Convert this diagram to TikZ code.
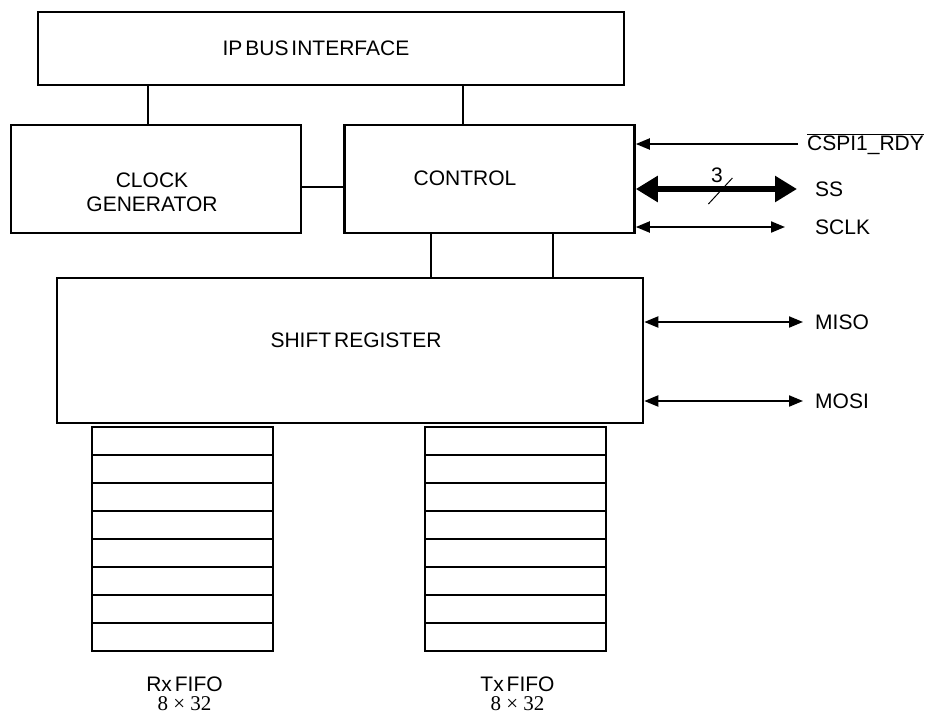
\documentclass[tikz,border=0pt]{standalone}
\usepackage{fontspec}
\setmainfont{Liberation Sans}[WordSpace=0.5]
\newfontfamily\numfont{Liberation Serif}
\usetikzlibrary{arrows.meta, positioning, calc}

\begin{document}
\begin{tikzpicture}[
  x=1pt, y=-1pt,
  font=\fontsize{21}{24}\selectfont,
  % blocs principaux
  blk/.style={rectangle, draw, line width=2.6pt, inner sep=0pt, align=center},
  cell/.style={rectangle, draw, line width=2pt, minimum width=181pt, minimum height=28pt, inner sep=0pt},
  txt/.style={inner sep=0pt, align=center},
  fifolbl/.style={txt, font=\fontsize{21}{19}\selectfont},
  sig/.style={inner sep=0pt, anchor=west},
  wire/.style={line width=2.6pt},
  arr/.style={{Triangle[length=14pt,width=11pt]}-{Triangle[length=14pt,width=11pt]}, line width=2pt},
  inarr/.style={-{Triangle[length=14pt,width=11pt]}, line width=2pt},
  busarr/.style={{Triangle[length=22pt,width=25pt]}-{Triangle[length=22pt,width=25pt]}, line width=6pt}
]
\useasboundingbox (0,0) rectangle (926,715);

% Blocs
\node[blk, minimum width=586pt, minimum height=73pt, label={[txt, xshift=-15pt]center:IP BUS INTERFACE}] (ipbus) at (331,48.5) {};
\node[blk, minimum width=290pt, minimum height=108pt, label={[txt, xshift=-4pt, yshift=-13pt]center:CLOCK\\GENERATOR}] (clk) at (156,179) {};
\node[blk, minimum width=290pt, minimum height=108pt, label={[txt, xshift=-24.5pt, yshift=1pt]center:CONTROL}] (ctrl) at (489.5,179) {};
\node[blk, minimum width=586pt, minimum height=145pt, label={[txt, xshift=6pt, yshift=10pt]center:SHIFT REGISTER}] (shreg) at (350,350.5) {};

% Liaisons internes
\draw[wire] ([xshift=-8pt]clk.north) -- ([xshift=-8pt]clk.north |- ipbus.south);
\draw[wire] ([xshift=-26.5pt]ctrl.north) -- ([xshift=-26.5pt]ctrl.north |- ipbus.south);
\draw[wire] ([yshift=-8pt]clk.east) -- ([yshift=-8pt]clk.east -| ctrl.west);
\draw[wire] ([xshift=-58.5pt]ctrl.south) -- ([xshift=-58.5pt]ctrl.south |- shreg.north);
\draw[wire] ([xshift=63.5pt]ctrl.south) -- ([xshift=63.5pt]ctrl.south |- shreg.north);

% FIFOs (8 mots)
\foreach \i in {1,...,8} {
  \node[cell] (rx\i) at (182.5, 413+28*\i) {};
  \node[cell] (tx\i) at (515.5, 413+28*\i) {};
}
\node[fifolbl, below=25pt of rx8, xshift=2pt] (rxlbl) {Rx FIFO\\{\numfont 8 × 32}};
\node[fifolbl, below=25pt of tx8, xshift=2pt] (txlbl) {Tx FIFO\\{\numfont 8 × 32}};

% Signaux externes
\coordinate (rdyE) at (798,144);
\node[sig, right=9pt of rdyE] (rdy) {$\overline{\mbox{CSPI1\_RDY}}$};
\draw[inarr] (rdyE) -- (rdyE -| ctrl.east);

\coordinate (ssE) at (797,189);
\node[sig, right=18pt of ssE] (ss) {SS};
\draw[busarr] (ssE -| ctrl.east) -- (ssE);
\draw[line width=1pt] ($(ssE -| ctrl.east)!0.5!(ssE)$) ++(-8,15) -- ++(24,-26)
  node[anchor=south east, inner sep=0pt, xshift=-9pt, yshift=-5pt] (buswd) {3};

\coordinate (sclkE) at (785,227);
\node[sig, right=30pt of sclkE] (sclk) {SCLK};
\draw[arr] (sclkE -| ctrl.east) -- (sclkE);

\coordinate (misoE) at (803,322);
\node[sig, right=12pt of misoE] (miso) {MISO};
\draw[arr] (misoE -| shreg.east) -- (misoE);

\coordinate (mosiE) at (803,401);
\node[sig, right=12pt of mosiE] (mosi) {MOSI};
\draw[arr] (mosiE -| shreg.east) -- (mosiE);

\end{tikzpicture}
\end{document}
